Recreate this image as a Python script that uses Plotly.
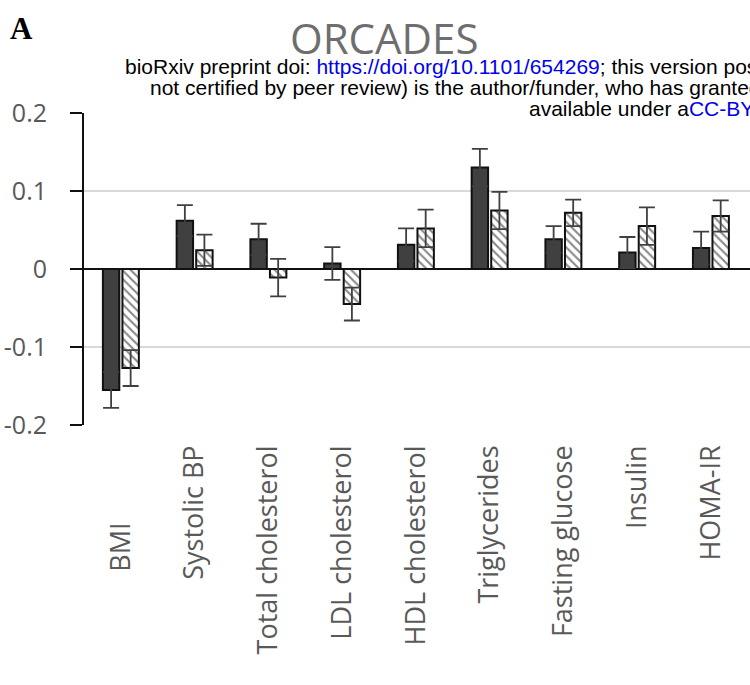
import plotly.graph_objects as go

# ---- data ----
categories = ["BMI", "Systolic BP", "Total cholesterol", "LDL cholesterol",
              "HDL cholesterol", "Triglycerides", "Fasting glucose", "Insulin", "HOMA-IR"]
series_a = [-0.155, 0.062, 0.038, 0.007, 0.031, 0.130, 0.038, 0.021, 0.027]
series_a_err = [0.023, 0.020, 0.020, 0.021, 0.021, 0.024, 0.017, 0.020, 0.021]
series_b = [-0.127, 0.024, -0.011, -0.045, 0.052, 0.075, 0.072, 0.055, 0.068]
series_b_err = [0.023, 0.020, 0.024, 0.021, 0.024, 0.024, 0.017, 0.024, 0.020]
y_tickvals = [-0.2, -0.1, 0, 0.1, 0.2]
y_ticktext = ["-0.2", "-0.1", "0", "0.1", "0.2"]

# tick labels (BMI label sits lower in the original)
tick_labels = [c for c in categories]
tick_labels[0] = "BMI" + "\u00a0" * 11

W, H = 750, 685
L, R, T, B = 84, 0, 113, 260
PW, PH = W - L - R, H - T - B


def px(X):
    return (X - L) / PW


def py(Y):
    return (H - B - Y) / PH


GRAY = "#595959"
fig = go.Figure()
fig.add_trace(go.Bar(
    x=categories, y=series_a, name="Series A",
    marker=dict(color="#404040", line=dict(color="#111111", width=2)),
    error_y=dict(type="data", array=series_a_err, visible=True,
                 color="#404040", thickness=1.8, width=8),
))
fig.add_trace(go.Bar(
    x=categories, y=series_b, name="Series B",
    marker=dict(color="white", line=dict(color="#111111", width=2),
                pattern=dict(shape="\\", fgcolor="#111111", bgcolor="white",
                             size=6, solidity=0.35)),
    error_y=dict(type="data", array=series_b_err, visible=True,
                 color="#404040", thickness=1.8, width=8),
))

fig.update_layout(
    width=W, height=H,
    margin=dict(l=L, r=R, t=T, b=B, pad=0),
    paper_bgcolor="white", plot_bgcolor="white",
    barmode="group", bargap=0.47, bargroupgap=0.16,
    showlegend=False,
    font=dict(family="Open Sans", color=GRAY),
)
fig.update_xaxes(
    type="category", range=[-0.5, 8.53],
    tickmode="array", tickvals=categories, ticktext=tick_labels,
    tickangle=-90, tickfont=dict(family="Open Sans", size=27, color=GRAY),
    showgrid=False, showline=False, zeroline=False, ticks="",
    ticklabelstandoff=14,
)
fig.update_yaxes(
    range=[-0.2, 0.2], tickmode="array", tickvals=y_tickvals, ticktext=y_ticktext,
    tickfont=dict(family="Open Sans", size=25, color=GRAY),
    showgrid=True, gridcolor="#d9d9d9", gridwidth=1.5,
    zeroline=True, zerolinecolor="#111111", zerolinewidth=2,
    showline=True, linecolor="#111111", linewidth=2,
    ticks="outside", ticklen=12, tickwidth=2, tickcolor="#111111",
    ticklabelstandoff=18,
)

BLUE = "#0000ee"
anns = [
    dict(text="<b>A</b>", x=px(21), y=py(28), font=dict(family="Liberation Serif", size=31, color="black"),
         xanchor="center", yanchor="middle"),
    dict(text="ORCADES", x=px(384), y=py(37), font=dict(family="Open Sans", size=42, color="#6e6e6e"),
         xanchor="center", yanchor="middle"),
    dict(text="bioRxiv preprint doi: <span style='color:%s'>https://doi.org/10.1101/654269</span>; this version posted" % BLUE,
         x=px(123), y=py(66), font=dict(family="Liberation Sans", size=21, color="black"),
         xanchor="left", yanchor="middle"),
    dict(text="not certified by peer review) is the author/funder, who has granted bioRxiv",
         x=px(148), y=py(87.5), font=dict(family="Liberation Sans", size=21, color="black"),
         xanchor="left", yanchor="middle"),
    dict(text="available under a<span style='color:%s'>CC-BY 4.0 International license</span>." % BLUE,
         x=px(527), y=py(108), font=dict(family="Liberation Sans", size=21, color="black"),
         xanchor="left", yanchor="middle"),
]
for a in anns:
    a.update(xref="paper", yref="paper", showarrow=False)
fig.update_layout(annotations=anns)

fig.write_html("out.html")
